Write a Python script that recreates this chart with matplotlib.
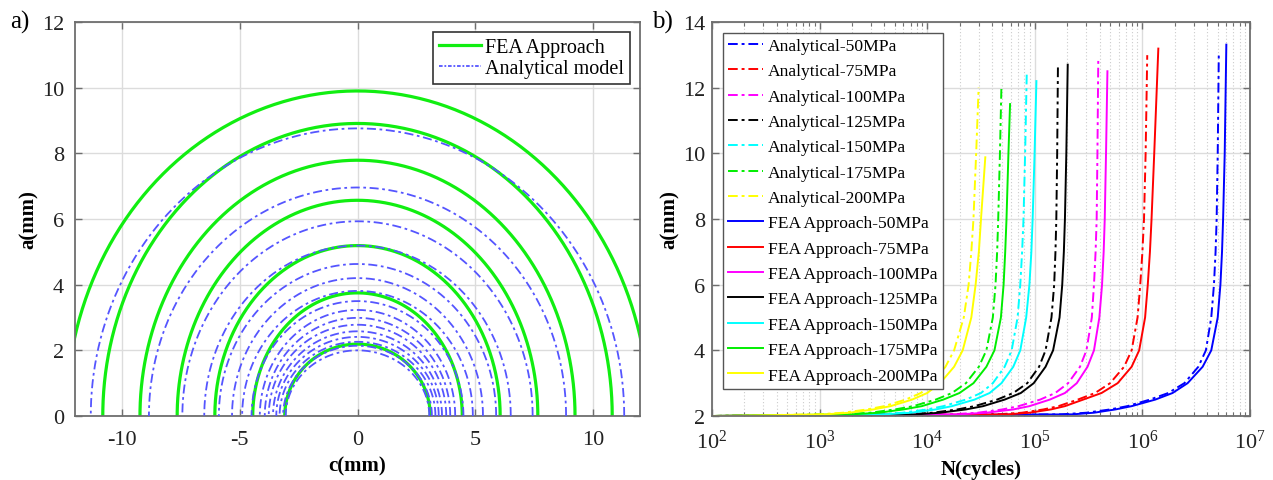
import numpy as np
import matplotlib.pyplot as plt
from matplotlib.ticker import LogLocator, NullFormatter

plt.rcParams['font.family'] = ['Liberation Serif', 'DejaVu Serif']
plt.rcParams['mathtext.fontset'] = 'stix'
plt.rcParams['axes.unicode_minus'] = False

# ---- panel a: crack front shapes (half-width c, depth a) ----
fea_c = [3.09, 4.45, 6.06, 7.66, 9.24, 10.82, 12.38]
fea_a = [2.19, 3.75, 5.19, 6.57, 7.79, 8.91, 9.90]
ana_c = [3.05, 3.16, 3.31, 3.45, 3.59, 3.77, 3.94, 4.15, 4.50, 4.90,
         5.33, 5.89, 6.51, 7.44, 8.86, 11.33]
ana_a = [2.00, 2.14, 2.26, 2.41, 2.58, 2.78, 2.99, 3.23, 3.50, 3.81,
         4.20, 4.63, 5.19, 5.93, 6.96, 8.76]

# ---- panel b: crack depth a(mm) against log10(N cycles) ----
stress = ['50', '75', '100', '125', '150', '175', '200']
colors = ['#0000ff', '#ff0000', '#ff00ff', '#000000', '#00ffff', '#00ee00', '#ffff00']

a_levels = [2.0, 2.05, 2.1, 2.2, 2.3, 2.5, 2.7, 3.0, 3.5, 4.0, 5.0, 6.0, 7.0, 8.0, 10.0]
ana_top = {'50': 13.04, '75': 12.99, '100': 12.9, '125': 12.64,
           '150': 12.4, '175': 12.08, '200': 12.0}
fea_top = {'50': 13.31, '75': 13.19, '100': 12.5, '125': 12.7,
           '150': 12.2, '175': 11.5, '200': 9.88}

ana_logN = {
    '50':  [2, 5.25, 5.48, 5.70, 5.86, 6.07, 6.24, 6.39, 6.52, 6.59, 6.64, 6.665, 6.68, 6.69, 6.70, 6.71],
    '75':  [2, 4.65, 4.88, 5.08, 5.22, 5.40, 5.56, 5.70, 5.83, 5.90, 5.955, 5.98, 6.00, 6.015, 6.03, 6.045],
    '100': [2, 4.22, 4.47, 4.70, 4.85, 5.05, 5.19, 5.31, 5.42, 5.48, 5.53, 5.55, 5.565, 5.575, 5.582, 5.59],
    '125': [2, 3.82, 4.05, 4.28, 4.44, 4.65, 4.80, 4.93, 5.04, 5.10, 5.155, 5.18, 5.192, 5.20, 5.208, 5.215],
    '150': [2, 3.52, 3.77, 4.00, 4.15, 4.36, 4.50, 4.61, 4.72, 4.785, 4.84, 4.865, 4.882, 4.895, 4.91, 4.925],
    '175': [2, 3.22, 3.47, 3.70, 3.87, 4.08, 4.23, 4.36, 4.48, 4.55, 4.61, 4.635, 4.65, 4.66, 4.676, 4.69],
    '200': [2, 2.98, 3.22, 3.44, 3.60, 3.80, 3.94, 4.05, 4.17, 4.25, 4.34, 4.385, 4.41, 4.43, 4.455, 4.478],
}
fea_logN = {
    '50':  [2, 5.35, 5.55, 5.75, 5.90, 6.12, 6.28, 6.42, 6.56, 6.64, 6.70, 6.725, 6.74, 6.75, 6.765, 6.78],
    '75':  [2, 4.75, 4.95, 5.15, 5.28, 5.45, 5.62, 5.77, 5.90, 5.97, 6.025, 6.05, 6.07, 6.085, 6.11, 6.148],
    '100': [2, 4.30, 4.55, 4.80, 4.95, 5.14, 5.28, 5.39, 5.49, 5.55, 5.60, 5.625, 5.64, 5.65, 5.662, 5.675],
    '125': [2, 3.90, 4.12, 4.36, 4.52, 4.72, 4.87, 4.99, 5.10, 5.17, 5.23, 5.255, 5.27, 5.28, 5.293, 5.306],
    '150': [2, 3.60, 3.85, 4.08, 4.23, 4.44, 4.58, 4.69, 4.80, 4.865, 4.92, 4.95, 4.968, 4.98, 4.998, 5.015],
    '175': [2, 3.30, 3.55, 3.78, 3.95, 4.15, 4.30, 4.43, 4.55, 4.625, 4.685, 4.71, 4.725, 4.737, 4.755, 4.77],
    '200': [2, 3.05, 3.28, 3.50, 3.66, 3.86, 4.00, 4.12, 4.25, 4.33, 4.41, 4.45, 4.48, 4.50, 4.54],
}

W, H = 1273, 481
fig = plt.figure(figsize=(W / 100, H / 100), dpi=100)
fig.patch.set_facecolor('white')
ax1 = fig.add_axes([75 / W, 1 - 417 / H, 565 / W, 394 / H])
ax2 = fig.add_axes([712 / W, 1 - 417 / H, 538 / W, 394 / H])

box_col = '#6e6e6e'
grid_col = '#dcdcdc'


def style(ax):
    for s in ax.spines.values():
        s.set_color(box_col)
        s.set_linewidth(1.3)
    ax.tick_params(which='both', direction='in', top=True, right=True,
                   color=box_col, labelcolor='#222222', labelsize=16)
    ax.tick_params(which='major', length=5, width=1)
    ax.set_axisbelow(True)


# ---- panel a ----
th = np.linspace(0, np.pi, 300)
for c, a in zip(ana_c, ana_a):
    ax1.plot(c * np.cos(th), a * np.sin(th), color='#5555ff',
             lw=1.3, ls=(0, (5, 2, 1.5, 2)), zorder=3)
for c, a in zip(fea_c, fea_a):
    ax1.plot(c * np.cos(th), a * np.sin(th), color='#11ee11', lw=2.3, zorder=2)

ax1.set_xlim(-12, 12)
ax1.set_ylim(0, 12)
ax1.set_xticks([-10, -5, 0, 5, 10])
ax1.set_yticks(range(0, 13, 2))
ax1.grid(True, color=grid_col, lw=1)
style(ax1)
ax1.tick_params(axis='y', pad=8)
ax1.tick_params(axis='x', pad=10)
ax1.set_xlabel('c(mm)', fontsize=15, fontweight='bold', labelpad=5)
ax1.set_ylabel('a(mm)', fontsize=15, fontweight='bold', labelpad=2)
h1, = ax1.plot([], [], color='#11ee11', lw=2.3)
h2, = ax1.plot([], [], color='#5555ff', lw=1.3, ls=(0, (2, 1, 1, 1)))
leg1 = ax1.legend([h1, h2], ['FEA Approach', 'Analytical model'], loc='upper right',
                  fontsize=14.5, handlelength=2.1, handletextpad=0.2,
                  labelspacing=0.1, borderpad=0.3, borderaxespad=0.5,
                  fancybox=False, framealpha=1, edgecolor='#333333')
leg1.get_frame().set_linewidth(1.2)

# ---- panel b ----
for s, col in zip(stress, colors):
    ax2.plot(10 ** np.array(ana_logN[s]), a_levels + [ana_top[s]], color=col, lw=1.4,
             ls=(0, (5, 2, 1.5, 2)), label=f'Analytical-{s}MPa')
for s, col in zip(stress, colors):
    a_fea = [v for v in a_levels if v < fea_top[s]] + [fea_top[s]]
    ax2.plot(10 ** np.array(fea_logN[s]), a_fea, color=col, lw=1.4,
             label=f'FEA Approach-{s}MPa')

ax2.set_xscale('log')
ax2.set_xlim(1e2, 1e7)
ax2.set_ylim(2, 14)
ax2.set_yticks(range(2, 15, 2))
ax2.xaxis.set_minor_locator(LogLocator(base=10, subs=np.arange(2, 10), numticks=20))
ax2.xaxis.set_minor_formatter(NullFormatter())
ax2.grid(True, which='major', color=grid_col, lw=1)
ax2.grid(True, which='minor', axis='x', color='#cccccc', lw=0.8, ls=(0, (1, 2)))
style(ax2)
ax2.tick_params(axis='y', pad=5)
ax2.tick_params(axis='x', pad=10)
ax2.tick_params(which='minor', length=3, width=0.8)
ax2.set_xlabel('N(cycles)', fontsize=15, fontweight='bold', labelpad=4)
ax2.set_ylabel('a(mm)', fontsize=15, fontweight='bold', labelpad=2)
leg2 = ax2.legend(loc='upper left', fontsize=12.6, handlelength=2.0,
                  handletextpad=0.3, labelspacing=0.52, borderpad=0.3,
                  borderaxespad=0.6, fancybox=False, framealpha=1,
                  edgecolor='#555555')
leg2.get_frame().set_linewidth(1.0)

fig.text(10 / W, 1 - 22 / H, 'a)', fontsize=18, va='center', ha='left')
fig.text(652 / W, 1 - 22 / H, 'b)', fontsize=18, va='center', ha='left')

fig.savefig('out.png', dpi=100)
